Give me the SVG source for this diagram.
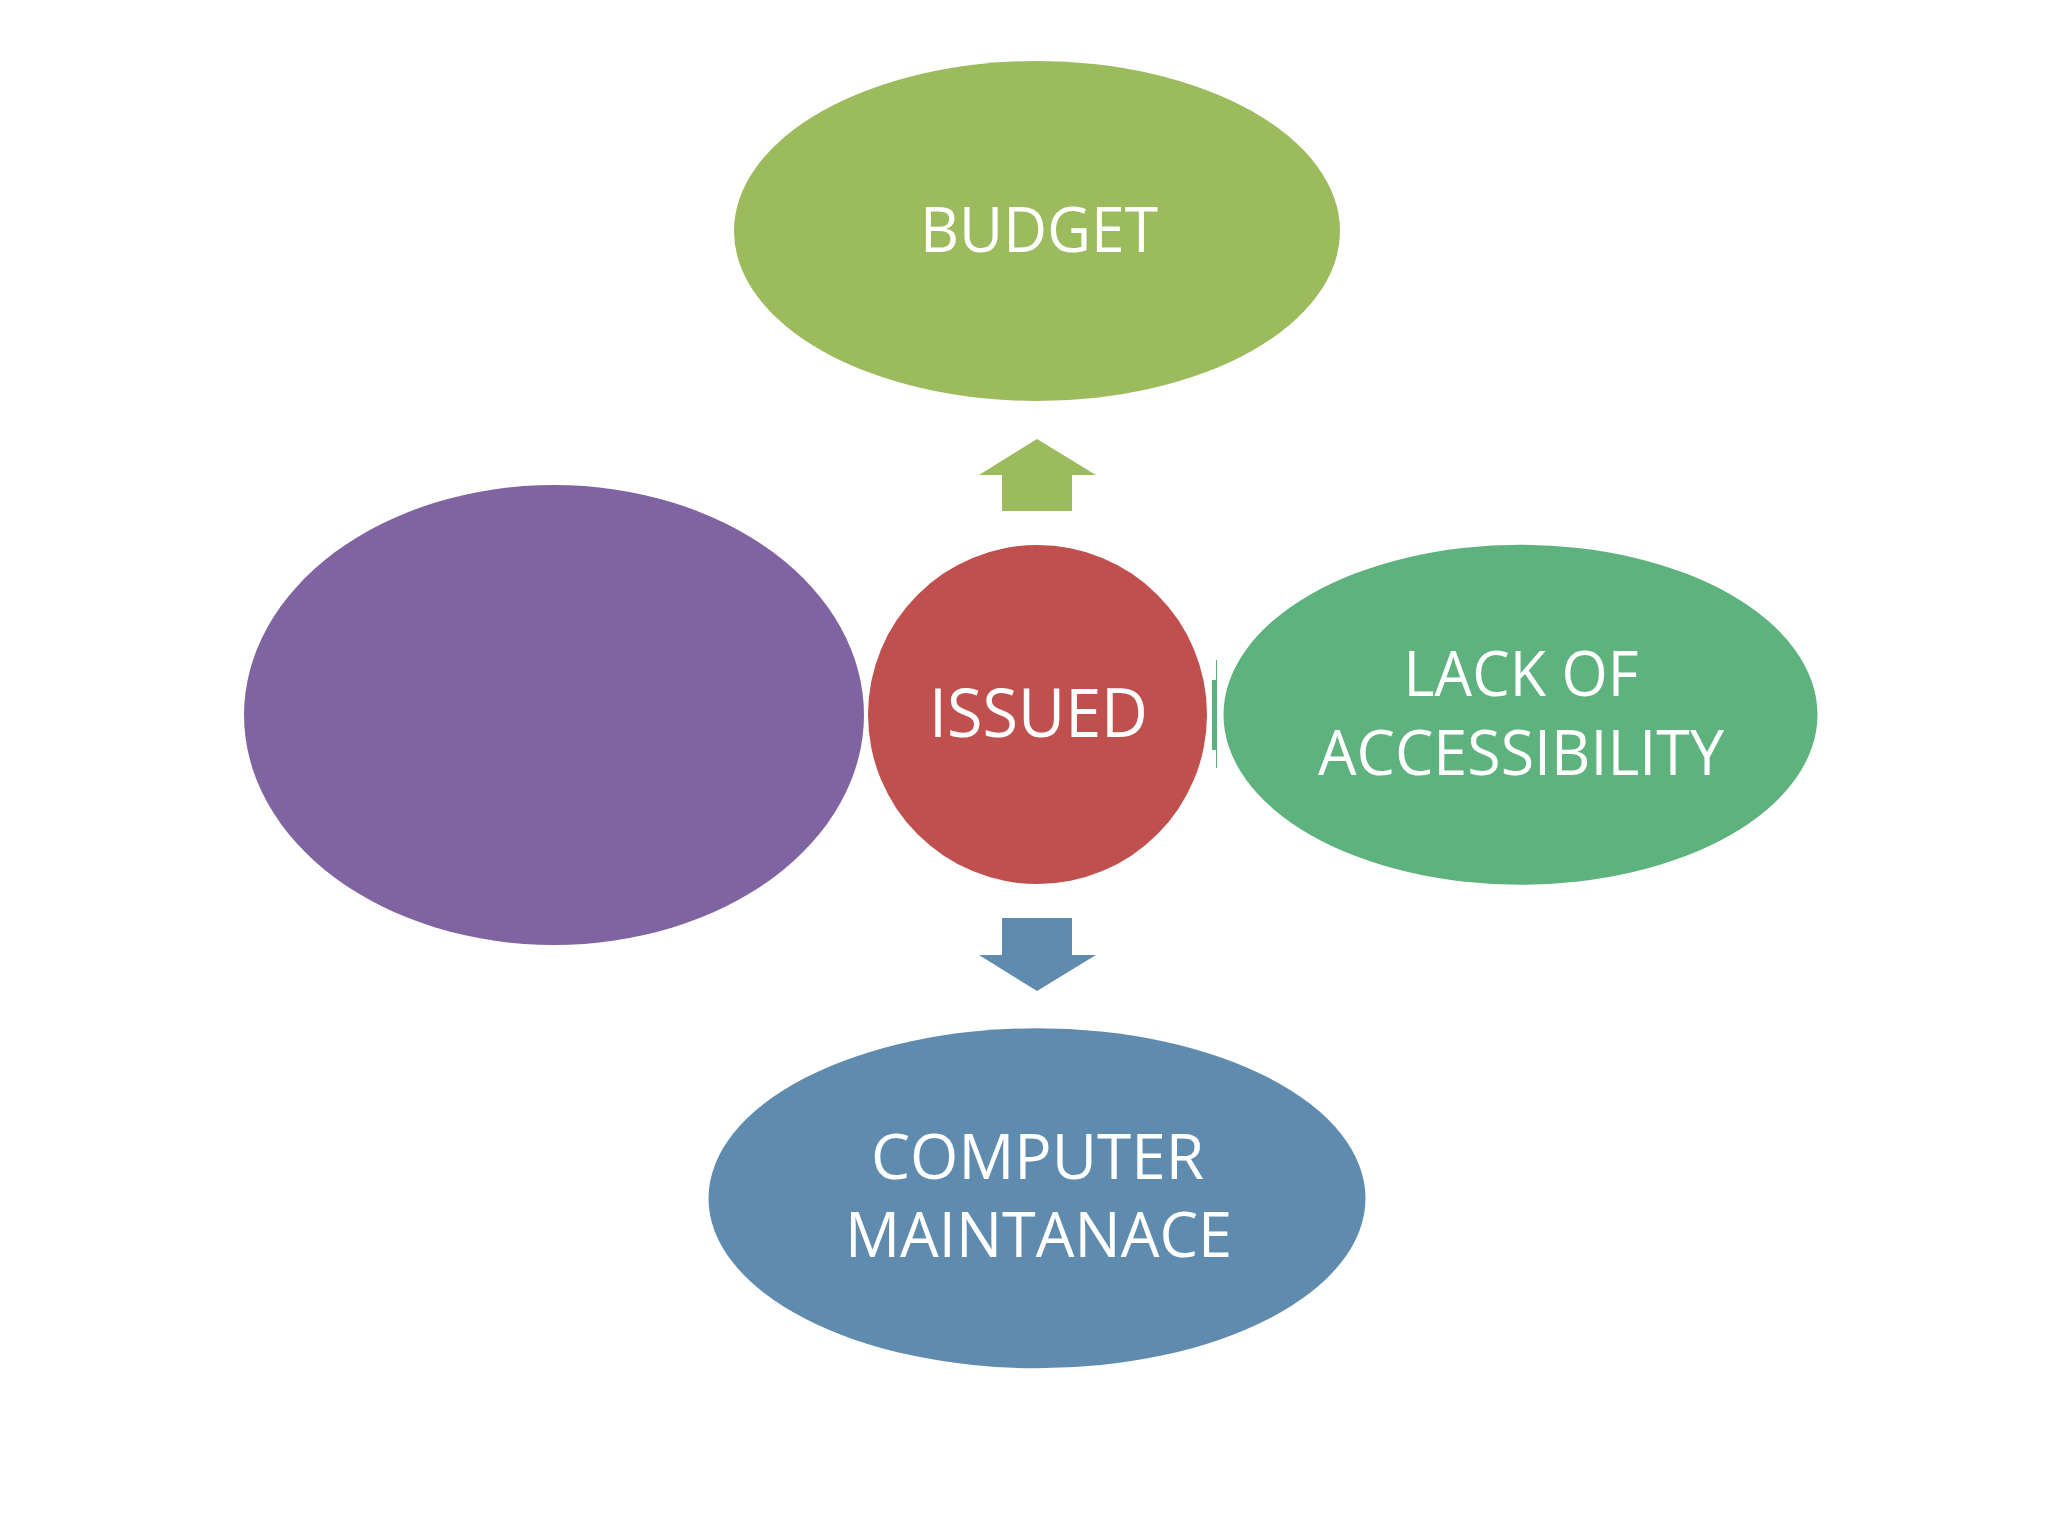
<svg xmlns="http://www.w3.org/2000/svg" width="2048" height="1536" viewBox="0 0 2048 1536">
<style>
.lbl{font-family:"Open Sans","Liberation Sans",sans-serif;fill:#FFFFFF;text-anchor:middle;}
.s{font-size:63px;}
.b{font-size:68px;}
</style>
<rect x="0" y="0" width="2048" height="1536" fill="#FFFFFF"/>
<g id="connectors">
<polygon id="arrow-up" points="1037,439 1096,475 1072,475 1072,511 1002,511 1002,475 979,475" fill="#9BBB5C"/>
<polygon id="arrow-down" points="1002,918 1072,918 1072,955 1096,955 1037,991 979,955 1002,955" fill="#5F8CAE"/>
<rect id="arrow-right" x="1212" y="680" width="4" height="70" fill="#5DB27E"/>
<line x1="1216.5" y1="660" x2="1216.5" y2="768" stroke="#5DB27E" stroke-width="1"/>
</g>
<g id="node-budget">
<ellipse cx="1037" cy="231" rx="303" ry="170" fill="#9BBB5C"/>
<text class="lbl s" x="1039" y="252" textLength="238" lengthAdjust="spacingAndGlyphs">BUDGET</text>
</g>
<g id="node-purple">
<ellipse cx="554" cy="715" rx="310" ry="230" fill="#8064A2"/>
</g>
<g id="node-issued">
<circle cx="1037.5" cy="714.5" r="169.5" fill="#C0504D"/>
<text class="lbl b" x="1038.5" y="737" textLength="219" lengthAdjust="spacingAndGlyphs">ISSUED</text>
</g>
<g id="node-lack">
<ellipse cx="1520.5" cy="714.7" rx="297" ry="170" fill="#5DB27E"/>
<text class="lbl s" x="1521" y="696" textLength="235" lengthAdjust="spacingAndGlyphs">LACK OF</text>
<text class="lbl s" x="1521" y="775" textLength="406" lengthAdjust="spacingAndGlyphs">ACCESSIBILITY</text>
</g>
<g id="node-computer">
<ellipse cx="1037" cy="1198.3" rx="328.5" ry="170" fill="#5F8CAE"/>
<text class="lbl s" x="1037.5" y="1179" textLength="333" lengthAdjust="spacingAndGlyphs">COMPUTER</text>
<text class="lbl s" x="1038.5" y="1257" textLength="387" lengthAdjust="spacingAndGlyphs">MAINTANACE</text>
</g>
</svg>
